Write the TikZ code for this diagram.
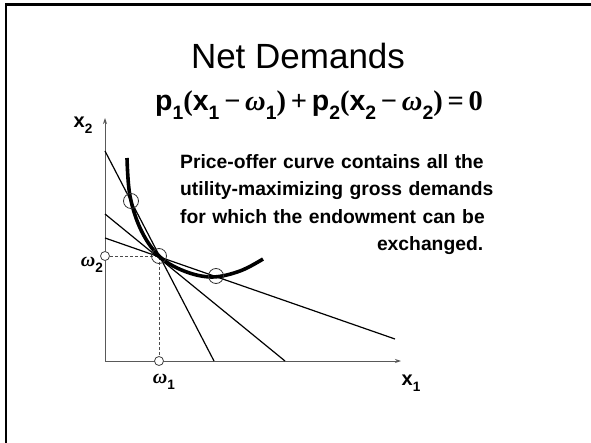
\documentclass[tikz,border=0pt]{standalone}
\usepackage{fontspec}
\usepackage{graphicx}
\setmainfont{Liberation Sans}
\newfontfamily\rmb{Liberation Serif}
\newcommand\lowsub[1]{\raisebox{-0.3em}{\scalebox{0.68}{#1}}}
\newcommand\om{{\rmb\bfseries\itshape ω}}
\usetikzlibrary{arrows.meta}
\tikzset{
  frame/.style={line width=2.4pt, line join=miter},
  axis/.style={draw=black!65, line width=0.9pt, -{Stealth[length=6pt,width=4pt]}},
  budget/.style={draw=black, line width=1.2pt},
  guide/.style={draw=black!70, line width=0.8pt, dash pattern=on 3pt off 2pt},
  offer/.style={draw=black, line width=3.6pt},
  smalldot/.style={circle, draw=black!75, fill=white, line width=0.8pt, minimum size=9pt, inner sep=0pt},
  bigdot/.style={circle, draw=black!80, line width=0.8pt, minimum size=15pt, inner sep=0pt},
  lbl/.style={font=\bfseries\fontsize{20}{22}\selectfont, inner sep=0pt}
}
\begin{document}
\begin{tikzpicture}[x=1pt,y=-1pt]
\useasboundingbox (0,0) rectangle (591,443);
\draw[frame] (6.2,443) -- (6.2,4.5) -- (591,4.5);

\node[font=\fontsize{35}{40}\selectfont, anchor=base] (title) at (298,69) {Net Demands};
\node[font=\bfseries\fontsize{28.5}{32}\selectfont, anchor=base west, inner sep=0pt] (eq) at (155,111)
 {p\lowsub{1}{\rmb(}x\lowsub{1}\,{\rmb −}\,\om\lowsub{1}{\rmb)}\,{\rmb +}\,p\lowsub{2}{\rmb(}x\lowsub{2}\,{\rmb −}\,\om\lowsub{2}{\rmb)}\,{\rmb =}\,{\rmb\bfseries 0}};

\node[font=\bfseries\fontsize{19.3}{27.5}\selectfont, anchor=north west, align=left, text width=303pt, inner sep=0pt] (txt) at (180,154)
 {\mbox{Price-offer curve contains all the}\\\mbox{utility-maximizing gross demands}\\\mbox{for which the endowment can be}\\\hspace*{0pt plus 1filll}exchanged.};

\coordinate (O) at (105,361);
\coordinate (ytop) at (105,118);
\coordinate (xend) at (401,361);
\draw[axis] (O) -- (ytop);
\draw[axis] (O) -- (xend);

\coordinate (E) at (159,256);
\coordinate (Ey) at (105,256);
\coordinate (Ex) at (159,361);
\draw[guide] (Ey) -- (E) -- (Ex);

\coordinate (a1) at (105,151);
\coordinate (b1) at (214,361);
\coordinate (a2) at (105,214);
\coordinate (b2) at (285,361);
\coordinate (a3) at (105,238);
\coordinate (b3) at (395,339);
\draw[budget] (a1) -- (b1);
\draw[budget] (a2) -- (b2);
\draw[budget] (a3) -- (b3);

\draw[offer] plot[smooth, tension=0.6] coordinates {(127,158) (130,196) (141,230) (159,256) (184,271) (212,277) (240,271) (263,259)};

\node[bigdot] (c1) at (131,201) {};
\node[bigdot] (c2) at (159,256) {};
\node[bigdot] (c3) at (216,276) {};
\node[smalldot] (dy) at (Ey) {};
\node[smalldot] (dx) at (Ex) {};

\node[lbl] (lx2) at (83,125) {x\lowsub{2}};
\node[lbl] (lx1) at (411,383) {x\lowsub{1}};
\node[lbl] (lw1) at (164,382) {\om\lowsub{1}};
\node[lbl] (lw2) at (92,265) {\om\lowsub{2}};
\end{tikzpicture}
\end{document}
